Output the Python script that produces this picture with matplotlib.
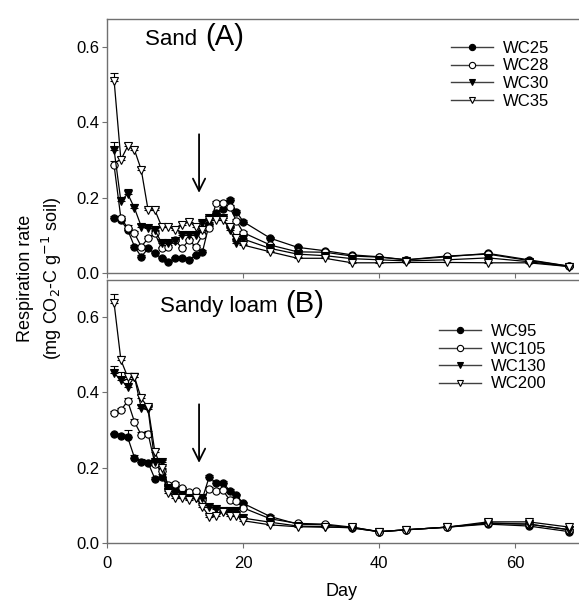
import matplotlib
matplotlib.use("Agg")
import matplotlib.pyplot as plt
from matplotlib.lines import Line2D
import numpy as np

plt.rcParams['font.family'] = ['Liberation Sans', 'DejaVu Sans']

days = [1, 2, 3, 4, 5, 6, 7, 8, 9, 10, 11, 12, 13, 14, 15, 16, 17, 18, 19, 20,
        24, 28, 32, 36, 40, 44, 50, 56, 62, 68]

# Panel A: Sand
sand_labels = ["WC25", "WC28", "WC30", "WC35"]
wc25 = [0.145, 0.14, 0.114, 0.07, 0.043, 0.065, 0.052, 0.039, 0.03, 0.039,
        0.039, 0.034, 0.048, 0.056, 0.13, 0.16, 0.17, 0.193, 0.162, 0.136,
        0.092, 0.068, 0.059, 0.048, 0.043, 0.035, 0.043, 0.052, 0.035, 0.018]
wc28 = [0.285, 0.145, 0.12, 0.105, 0.07, 0.092, 0.105, 0.065, 0.07, 0.087,
        0.065, 0.087, 0.07, 0.1, 0.12, 0.185, 0.185, 0.175, 0.138, 0.107,
        0.074, 0.056, 0.055, 0.045, 0.042, 0.035, 0.045, 0.05, 0.033, 0.018]
wc30 = [0.326, 0.19, 0.21, 0.172, 0.123, 0.12, 0.114, 0.079, 0.079, 0.085,
        0.1, 0.1, 0.1, 0.132, 0.145, 0.145, 0.145, 0.114, 0.08, 0.09,
        0.065, 0.05, 0.046, 0.038, 0.035, 0.032, 0.035, 0.04, 0.03, 0.017]
wc35 = [0.51, 0.30, 0.336, 0.326, 0.273, 0.167, 0.167, 0.123, 0.123, 0.114,
        0.127, 0.136, 0.123, 0.115, 0.14, 0.14, 0.14, 0.123, 0.092, 0.074,
        0.056, 0.039, 0.039, 0.027, 0.027, 0.028, 0.028, 0.027, 0.027, 0.017]
err25 = [0.005, 0.005, 0.005, 0.005, 0.004, 0.004, 0.004, 0.004, 0.003, 0.003,
         0.003, 0.003, 0.003, 0.004, 0.005, 0.005, 0.005, 0.005, 0.005, 0.004,
         0.003, 0.003, 0.003, 0.002, 0.002, 0.002, 0.002, 0.003, 0.002, 0.002]
err28 = [0.012, 0.006, 0.006, 0.006, 0.005, 0.005, 0.005, 0.004, 0.004, 0.004,
         0.004, 0.004, 0.004, 0.005, 0.005, 0.006, 0.006, 0.006, 0.005, 0.004,
         0.003, 0.003, 0.003, 0.002, 0.002, 0.002, 0.002, 0.003, 0.002, 0.002]
err30 = [0.02, 0.012, 0.012, 0.012, 0.006, 0.005, 0.005, 0.005, 0.005, 0.005,
         0.005, 0.006, 0.006, 0.006, 0.006, 0.006, 0.006, 0.005, 0.005, 0.004,
         0.003, 0.003, 0.003, 0.002, 0.002, 0.002, 0.002, 0.003, 0.002, 0.002]
err35 = [0.02, 0.008, 0.008, 0.008, 0.008, 0.006, 0.006, 0.006, 0.006, 0.006,
         0.008, 0.008, 0.006, 0.006, 0.006, 0.006, 0.006, 0.005, 0.005, 0.004,
         0.003, 0.003, 0.003, 0.002, 0.002, 0.002, 0.002, 0.003, 0.002, 0.002]

# Panel B: Sandy loam
loam_labels = ["WC95", "WC105", "WC130", "WC200"]
wc95 = [0.288, 0.284, 0.28, 0.226, 0.214, 0.213, 0.17, 0.176, 0.145, 0.145,
        0.14, 0.13, 0.125, 0.118, 0.176, 0.158, 0.16, 0.139, 0.127, 0.105,
        0.07, 0.05, 0.048, 0.04, 0.03, 0.035, 0.042, 0.05, 0.045, 0.03]
wc105 = [0.345, 0.352, 0.376, 0.321, 0.286, 0.29, 0.21, 0.19, 0.154, 0.156,
         0.145, 0.134, 0.137, 0.114, 0.143, 0.137, 0.14, 0.114, 0.11, 0.093,
         0.064, 0.052, 0.05, 0.042, 0.03, 0.035, 0.042, 0.052, 0.05, 0.035]
wc130 = [0.45, 0.432, 0.414, 0.44, 0.357, 0.354, 0.215, 0.215, 0.145, 0.13,
         0.126, 0.12, 0.12, 0.118, 0.095, 0.09, 0.085, 0.085, 0.085, 0.066,
         0.055, 0.045, 0.043, 0.04, 0.03, 0.035, 0.042, 0.053, 0.05, 0.035]
wc200 = [0.635, 0.485, 0.44, 0.44, 0.383, 0.36, 0.242, 0.198, 0.132, 0.12,
         0.12, 0.114, 0.12, 0.096, 0.07, 0.072, 0.082, 0.072, 0.072, 0.059,
         0.048, 0.043, 0.042, 0.042, 0.03, 0.035, 0.042, 0.056, 0.056, 0.042]
err95 = [0.004, 0.006, 0.02, 0.008, 0.008, 0.006, 0.006, 0.006, 0.005, 0.005,
         0.004, 0.004, 0.004, 0.004, 0.005, 0.005, 0.005, 0.005, 0.004, 0.004,
         0.003, 0.003, 0.003, 0.002, 0.002, 0.002, 0.002, 0.003, 0.002, 0.002]
err105 = [0.006, 0.006, 0.008, 0.008, 0.008, 0.006, 0.006, 0.006, 0.005, 0.005,
          0.004, 0.004, 0.004, 0.004, 0.005, 0.005, 0.005, 0.005, 0.004, 0.004,
          0.003, 0.003, 0.003, 0.002, 0.002, 0.002, 0.002, 0.003, 0.002, 0.002]
err130 = [0.02, 0.02, 0.02, 0.01, 0.01, 0.01, 0.008, 0.006, 0.005, 0.005,
          0.004, 0.004, 0.004, 0.004, 0.005, 0.005, 0.005, 0.005, 0.004, 0.004,
          0.003, 0.003, 0.003, 0.002, 0.002, 0.002, 0.002, 0.003, 0.002, 0.002]
err200 = [0.025, 0.01, 0.01, 0.01, 0.01, 0.008, 0.006, 0.006, 0.005, 0.005,
          0.004, 0.004, 0.004, 0.004, 0.004, 0.004, 0.004, 0.004, 0.004, 0.004,
          0.003, 0.003, 0.003, 0.002, 0.002, 0.002, 0.002, 0.003, 0.002, 0.002]

arrow_day = 13.5
arrow_from, arrow_to = 0.375, 0.205

styles = [dict(marker='o', mfc='black'), dict(marker='o', mfc='white'),
          dict(marker='v', mfc='black'), dict(marker='v', mfc='white')]

W, H = 579, 602
fig = plt.figure(figsize=(W / 100, H / 100), dpi=100)
left = 107.3 / W
axw = 1.0 - left
ax1 = fig.add_axes([left, 1 - 273 / H, axw, (273 - 19) / H])
ax2 = fig.add_axes([left, 1 - 543 / H, axw, (543 - 280) / H])

spine_col = '#707070'

def draw(ax, series, errs, labels, ymax, title, tsub, legpos):
    handles = []
    for y, e, lab, st in zip(series, errs, labels, styles):
        y = np.array(y)
        ax.errorbar(days, y, yerr=[np.zeros_like(y), np.array(e)], color='black',
                    lw=0.9, ms=5.2, mec='black', mew=0.8, capsize=3, elinewidth=0.8,
                    capthick=0.8, **st)
        handles.append(Line2D([], [], color='#404040', lw=1.0, ms=4.5, mec='black',
                              mew=0.8, label=lab, **st))
    ax.set_xlim(0, 69.4)
    ax.set_ylim(0, ymax)
    ax.set_yticks([0.0, 0.2, 0.4, 0.6])
    ax.set_yticklabels(['0.0', '0.2', '0.4', '0.6'])
    ax.set_xticks([0, 20, 40, 60])
    ax.spines['right'].set_visible(False)
    for s in ['left', 'bottom', 'top']:
        ax.spines[s].set_color(spine_col)
        ax.spines[s].set_linewidth(1.0)
    ax.tick_params(direction='out', length=3.5, width=0.8, color=spine_col,
                   labelsize=12, pad=2)
    ax.tick_params(axis='x', pad=6)
    ax.annotate('', xy=(arrow_day, arrow_to), xytext=(arrow_day, arrow_from),
                arrowprops=dict(arrowstyle='->', lw=1.3, color='black',
                                mutation_scale=22))
    tx, ty = title
    t = ax.text(tx, ty, tsub[0], transform=fig.transFigure, fontsize=16,
                va='baseline', ha='left')
    fig.canvas.draw()
    bb = t.get_window_extent()
    ax.text(bb.x1 / W + 0.003, ty, tsub[1], transform=fig.transFigure,
            fontsize=21, va='baseline', ha='left')
    ax.legend(handles=handles, loc='upper left', bbox_to_anchor=legpos,
              bbox_transform=fig.transFigure, frameon=False, fontsize=12,
              handlelength=2.5, handletextpad=0.6, labelspacing=0.15,
              borderpad=0, borderaxespad=0)

draw(ax1, [wc25, wc28, wc30, wc35], [err25, err28, err30, err35], sand_labels,
     0.673, (145 / W, 1 - 45 / H), ("Sand ", "(A)"), (451 / W, 1 - 41 / H))
draw(ax2, [wc95, wc105, wc130, wc200], [err95, err105, err130, err200], loam_labels,
     0.697, (160 / W, 1 - 312 / H), ("Sandy loam ", "(B)"), (439 / W, 1 - 324 / H))

ax1.tick_params(labelbottom=False)
fig.text(left + axw * 0.5 - 0.003, 1 - 591 / H, 'Day', fontsize=13,
         ha='center', va='center')
fig.text(0.07, 1 - 278 / H, 'Respiration rate\n(mg CO$_2$-C g$^{-1}$ soil)',
         rotation=90, ha='center', va='center', fontsize=13, linespacing=1.3)

fig.savefig('out.png', dpi=100)
